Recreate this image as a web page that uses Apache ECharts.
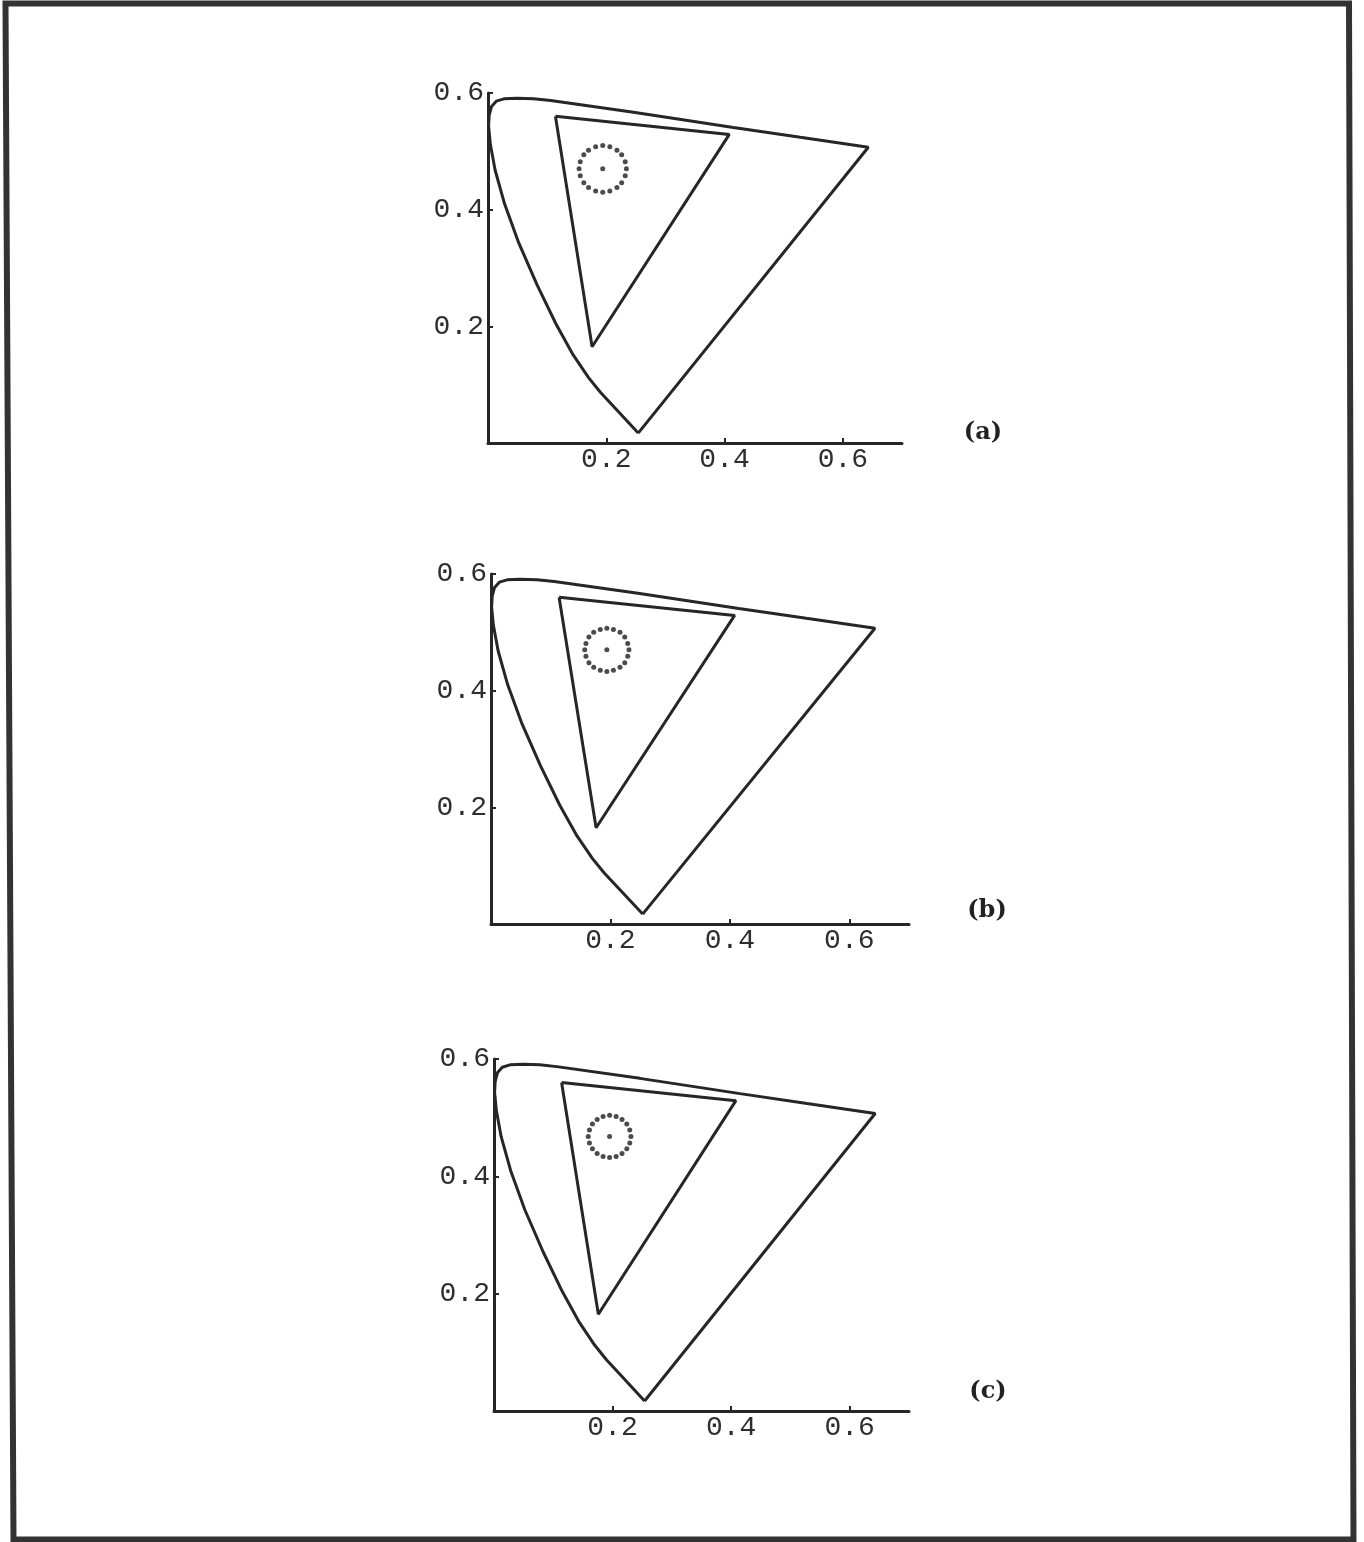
<!DOCTYPE html>
<html>
<head>
<meta charset="utf-8">
<script src="https://cdn.jsdelivr.net/npm/echarts@6/dist/echarts.min.js"></script>
<style>
html,body{margin:0;padding:0;background:#fff;}
#main{width:1364px;height:1542px;}
</style>
</head>
<body>
<div id="main"></div>
<script>
// ---- data (CIE u'v' plane) ----
var xTicks = [0.2, 0.4, 0.6];
var yTicks = [0.2, 0.4, 0.6];
var panelLabels = ['(a)', '(b)', '(c)'];

// spectral locus, closed with the purple line
var locus = [
  [0.254, 0.017], [0.212, 0.063], [0.190, 0.087], [0.170, 0.112], [0.144, 0.151],
  [0.115, 0.204], [0.083, 0.271], [0.052, 0.343], [0.028, 0.410], [0.012, 0.468],
  [0.004, 0.512], [0.001, 0.543], [0.002, 0.562], [0.006, 0.577], [0.014, 0.586],
  [0.027, 0.590], [0.049, 0.591], [0.077, 0.590], [0.106, 0.587], [0.246, 0.567],
  [0.415, 0.541], [0.528, 0.524], [0.643, 0.507], [0.254, 0.017]
];

// display gamut triangle
var gamut = [[0.114, 0.560], [0.408, 0.529], [0.176, 0.165], [0.114, 0.560]];

// white points
var whiteA = [[0.194, 0.470]];
var whiteB = [[0.194, 0.470]];
var whiteC = [[0.195, 0.468]];

// dotted tolerance circles
var ringA = [
  [0.194,0.510],[0.206,0.508],[0.218,0.502],[0.226,0.494],[0.232,0.482],
  [0.234,0.470],[0.232,0.458],[0.226,0.446],[0.218,0.438],[0.206,0.432],
  [0.194,0.430],[0.182,0.432],[0.170,0.438],[0.162,0.446],[0.156,0.458],
  [0.154,0.470],[0.156,0.482],[0.162,0.494],[0.170,0.502],[0.182,0.508]
];
var ringB = [
  [0.194,0.507],[0.205,0.505],[0.216,0.500],[0.224,0.492],[0.229,0.481],
  [0.231,0.470],[0.229,0.459],[0.224,0.448],[0.216,0.440],[0.205,0.435],
  [0.194,0.433],[0.183,0.435],[0.172,0.440],[0.164,0.448],[0.159,0.459],
  [0.157,0.470],[0.159,0.481],[0.164,0.492],[0.172,0.500],[0.183,0.505]
];
var ringC = [
  [0.195,0.504],[0.206,0.502],[0.216,0.497],[0.224,0.489],[0.229,0.479],
  [0.231,0.468],[0.229,0.457],[0.224,0.447],[0.216,0.439],[0.206,0.434],
  [0.195,0.432],[0.184,0.434],[0.174,0.439],[0.166,0.447],[0.161,0.457],
  [0.159,0.468],[0.161,0.479],[0.166,0.489],[0.174,0.497],[0.184,0.502]
];

// ---- layout ----
var ink = '#262626';
var grids = [
  {left: 488, top: 93, width: 414, height: 350},
  {left: 491, top: 574, width: 418, height: 350},
  {left: 494, top: 1059, width: 415, height: 352}
];
var labelPos = [[983, 433], [987, 911], [988, 1392]];
var rings = [ringA, ringB, ringC];
var whites = [whiteA, whiteB, whiteC];

var xAxes = [], yAxes = [], series = [], graphics = [];
grids.forEach(function (g, i) {
  xAxes.push({
    gridIndex: i, type: 'value', min: 0, max: 0.7, interval: 0.2,
    axisLine: {show: true, onZero: false, lineStyle: {color: ink, width: 3}},
    axisTick: {show: true, inside: true, length: 5, customValues: xTicks, lineStyle: {color: ink, width: 2}},
    axisLabel: {show: true, customValues: xTicks, margin: 3, color: '#2e2e2e',
      fontFamily: 'Liberation Mono', fontSize: 28,
      formatter: function (v) { return v.toFixed(1); }},
    splitLine: {show: false}
  });
  yAxes.push({
    gridIndex: i, type: 'value', min: 0, max: 0.6, interval: 0.2,
    axisLine: {show: true, onZero: false, lineStyle: {color: ink, width: 3}},
    axisTick: {show: true, inside: true, length: 5, customValues: yTicks, lineStyle: {color: ink, width: 2}},
    axisLabel: {show: true, customValues: yTicks, margin: 4, color: '#2e2e2e',
      fontFamily: 'Liberation Mono', fontSize: 28,
      formatter: function (v) { return v.toFixed(1); }},
    splitLine: {show: false}
  });
  series.push({
    type: 'line', xAxisIndex: i, yAxisIndex: i, data: locus, showSymbol: false,
    lineStyle: {color: ink, width: 3}, silent: true, clip: false
  });
  series.push({
    type: 'line', xAxisIndex: i, yAxisIndex: i, data: gamut, showSymbol: false,
    lineStyle: {color: ink, width: 3}, silent: true, clip: false
  });
  series.push({
    type: 'scatter', xAxisIndex: i, yAxisIndex: i, data: rings[i],
    symbol: 'circle', symbolSize: 5, itemStyle: {color: '#1e1e1e'}, silent: true
  });
  series.push({
    type: 'scatter', xAxisIndex: i, yAxisIndex: i, data: whites[i],
    symbol: 'circle', symbolSize: 5, itemStyle: {color: '#1e1e1e'}, silent: true
  });
  graphics.push({
    type: 'text', x: labelPos[i][0], y: labelPos[i][1],
    style: {text: panelLabels[i], font: 'bold 24px "DejaVu Serif"', fill: '#222',
      textAlign: 'center', textVerticalAlign: 'middle'}
  });
});
// page frame
graphics.push({
  type: 'polygon',
  shape: {points: [[5.5, 3.5], [1349, 3.5], [1353.5, 1539.5], [13.5, 1539.5]]},
  style: {fill: 'none', stroke: '#333', lineWidth: 6}
});

var chart = echarts.init(document.getElementById('main'), null, {renderer: 'canvas'});
chart.setOption({
  animation: false,
  backgroundColor: '#fff',
  grid: grids,
  xAxis: xAxes,
  yAxis: yAxes,
  series: series,
  graphic: graphics
});
</script>
</body>
</html>
